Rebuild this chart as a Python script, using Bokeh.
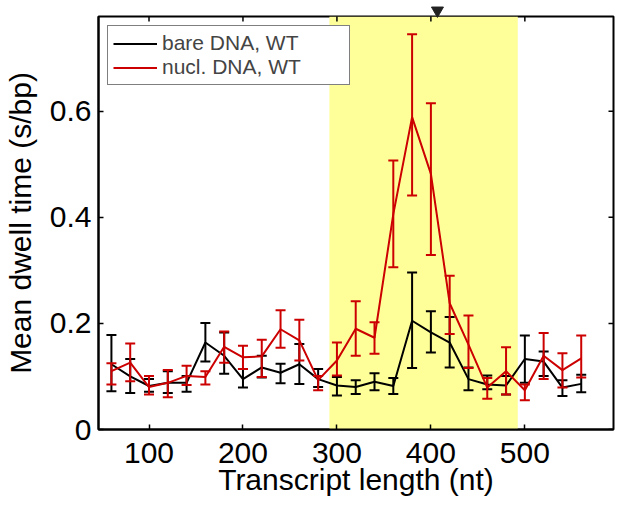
import math
from bokeh.plotting import figure
from bokeh.models import (Range1d, LinearAxis, FixedTicker, BoxAnnotation,
                          Legend, LegendItem)
from bokeh.embed import file_html
from bokeh.resources import INLINE

# ---- data ----
transcript_len = [60, 80, 100, 120, 140, 160, 180, 200, 220, 240, 260, 280, 300,
                  320, 340, 360, 380, 400, 420, 440, 460, 480, 500, 520, 540, 560]

bare_mean = [0.123, 0.100, 0.082, 0.088, 0.088, 0.164, 0.139, 0.095, 0.117, 0.107,
             0.123, 0.095, 0.083, 0.080, 0.090, 0.082, 0.205, 0.183, 0.164, 0.095,
             0.085, 0.083, 0.133, 0.128, 0.079, 0.086]
bare_upper = [0.178, 0.133, 0.095, 0.110, 0.101, 0.201, 0.183, 0.114, 0.139, 0.124,
              0.161, 0.114, 0.099, 0.093, 0.106, 0.097, 0.296, 0.223, 0.212, 0.117,
              0.102, 0.101, 0.177, 0.147, 0.093, 0.103]
bare_lower = [0.072, 0.069, 0.071, 0.069, 0.071, 0.128, 0.105, 0.079, 0.098, 0.087,
              0.086, 0.080, 0.064, 0.067, 0.074, 0.067, 0.116, 0.145, 0.117, 0.074,
              0.076, 0.066, 0.088, 0.101, 0.063, 0.070]

nucl_mean = [0.110, 0.126, 0.080, 0.088, 0.101, 0.099, 0.156, 0.136, 0.138, 0.189,
             0.168, 0.093, 0.130, 0.190, 0.173, 0.406, 0.589, 0.482, 0.238, 0.160,
             0.079, 0.110, 0.074, 0.139, 0.112, 0.134]
nucl_upper = [0.125, 0.162, 0.101, 0.112, 0.120, 0.110, 0.185, 0.158, 0.169, 0.225,
              0.207, 0.101, 0.164, 0.242, 0.202, 0.507, 0.745, 0.615, 0.290, 0.215,
              0.097, 0.155, 0.085, 0.182, 0.144, 0.177]
nucl_lower = [0.085, 0.091, 0.066, 0.061, 0.084, 0.085, 0.126, 0.114, 0.099, 0.154,
              0.130, 0.074, 0.102, 0.139, 0.143, 0.306, 0.441, 0.329, 0.180, 0.116,
              0.058, 0.066, 0.055, 0.095, 0.079, 0.098]

highlight_region = [292, 492.5]
arrow_x = [407]
arrow_y = [0.79]

x_ticks = [100, 200, 300, 400, 500]
y_ticks = [0, 0.2, 0.4, 0.6]
y_tick_labels = ["0", "0.2", "0.4", "0.6"]
x_limits = [46.25, 594.35]
y_limits = [0, 0.7787]

BLACK = "#000000"
RED = "#CC0000"
FONT = "Liberation Sans"

p = figure(width=617, height=508, output_backend="svg", toolbar_location=None,
           x_range=Range1d(*x_limits), y_range=Range1d(*y_limits),
           x_axis_location=None, y_axis_location=None,
           min_border_left=96, min_border_right=4, min_border_top=16,
           min_border_bottom=79)
p.grid.visible = False
p.outline_line_color = "black"
p.outline_line_width = 2
p.background_fill_color = "white"
p.border_fill_color = "white"

# highlighted region
p.add_layout(BoxAnnotation(left=highlight_region[0], right=highlight_region[1],
                           fill_color="#FFFF99", fill_alpha=1.0, line_color=None,
                           level="underlay"))

def make_axis(ticks):
    ax = LinearAxis()
    ax.ticker = FixedTicker(ticks=ticks)
    ax.major_tick_in = 5
    ax.major_tick_out = 0
    ax.minor_tick_line_color = None
    ax.major_tick_line_width = 1.5
    ax.axis_line_width = 2
    ax.major_label_text_font = FONT
    ax.major_label_text_color = "black"
    ax.major_label_text_font_size = "30px"
    ax.axis_label_text_font = FONT
    ax.axis_label_text_color = "black"
    ax.axis_label_text_font_style = "normal"
    ax.axis_label_text_font_size = "30px"
    return ax

xb = make_axis(x_ticks)
xb.axis_label = "Transcript length (nt)"
xb.major_label_standoff = 13
xb.axis_label_standoff = -3
p.add_layout(xb, "below")

yl = make_axis(y_ticks)
yl.axis_label = "Mean dwell time (s/bp)"
yl.major_label_overrides = {t: s for t, s in zip(y_ticks, y_tick_labels)}
yl.major_label_standoff = 7
yl.axis_label_standoff = 10
p.add_layout(yl, "left")

# mirrored inward ticks on the top and right edges (half of each dash is clipped)
p.scatter(x_ticks, [y_limits[1]] * len(x_ticks), marker="dash", angle=math.pi / 2,
          size=10, line_color=BLACK, line_width=1.5)
p.scatter([x_limits[1]] * len(y_ticks), y_ticks, marker="dash",
          size=10, line_color=BLACK, line_width=1.5)

# bare DNA (black)
p.segment(transcript_len, bare_lower, transcript_len, bare_upper,
          line_color=BLACK, line_width=2)
for ys in (bare_upper, bare_lower):
    p.scatter(transcript_len, ys, marker="dash", size=10, line_color=BLACK,
              line_width=2)
r_bare = p.line(transcript_len, bare_mean, line_color=BLACK, line_width=2)

# nucleosomal DNA (red)
p.segment(transcript_len, nucl_lower, transcript_len, nucl_upper,
          line_color=RED, line_width=2)
for ys in (nucl_upper, nucl_lower):
    p.scatter(transcript_len, ys, marker="dash", size=10, line_color=RED,
              line_width=2)
r_nucl = p.line(transcript_len, nucl_mean, line_color=RED, line_width=2)

# marker arrow above the plot
arrow = p.scatter(arrow_x, arrow_y, marker="inverted_triangle", size=12,
                  fill_color="#222222", line_color="#222222")
arrow.level = "overlay"

legend = Legend(items=[LegendItem(label="bare DNA, WT", renderers=[r_bare]),
                       LegendItem(label="nucl. DNA, WT", renderers=[r_nucl])],
                location="top_left", margin=9, padding=5, spacing=0,
                label_text_font=FONT, label_text_font_size="21px",
                label_height=21, glyph_height=21, glyph_width=44,
                label_standoff=5, label_width=182,
                border_line_color="black", border_line_width=1,
                background_fill_color="white", background_fill_alpha=1.0)
p.add_layout(legend, "center")

open("out.html", "w").write(file_html(p, INLINE))
